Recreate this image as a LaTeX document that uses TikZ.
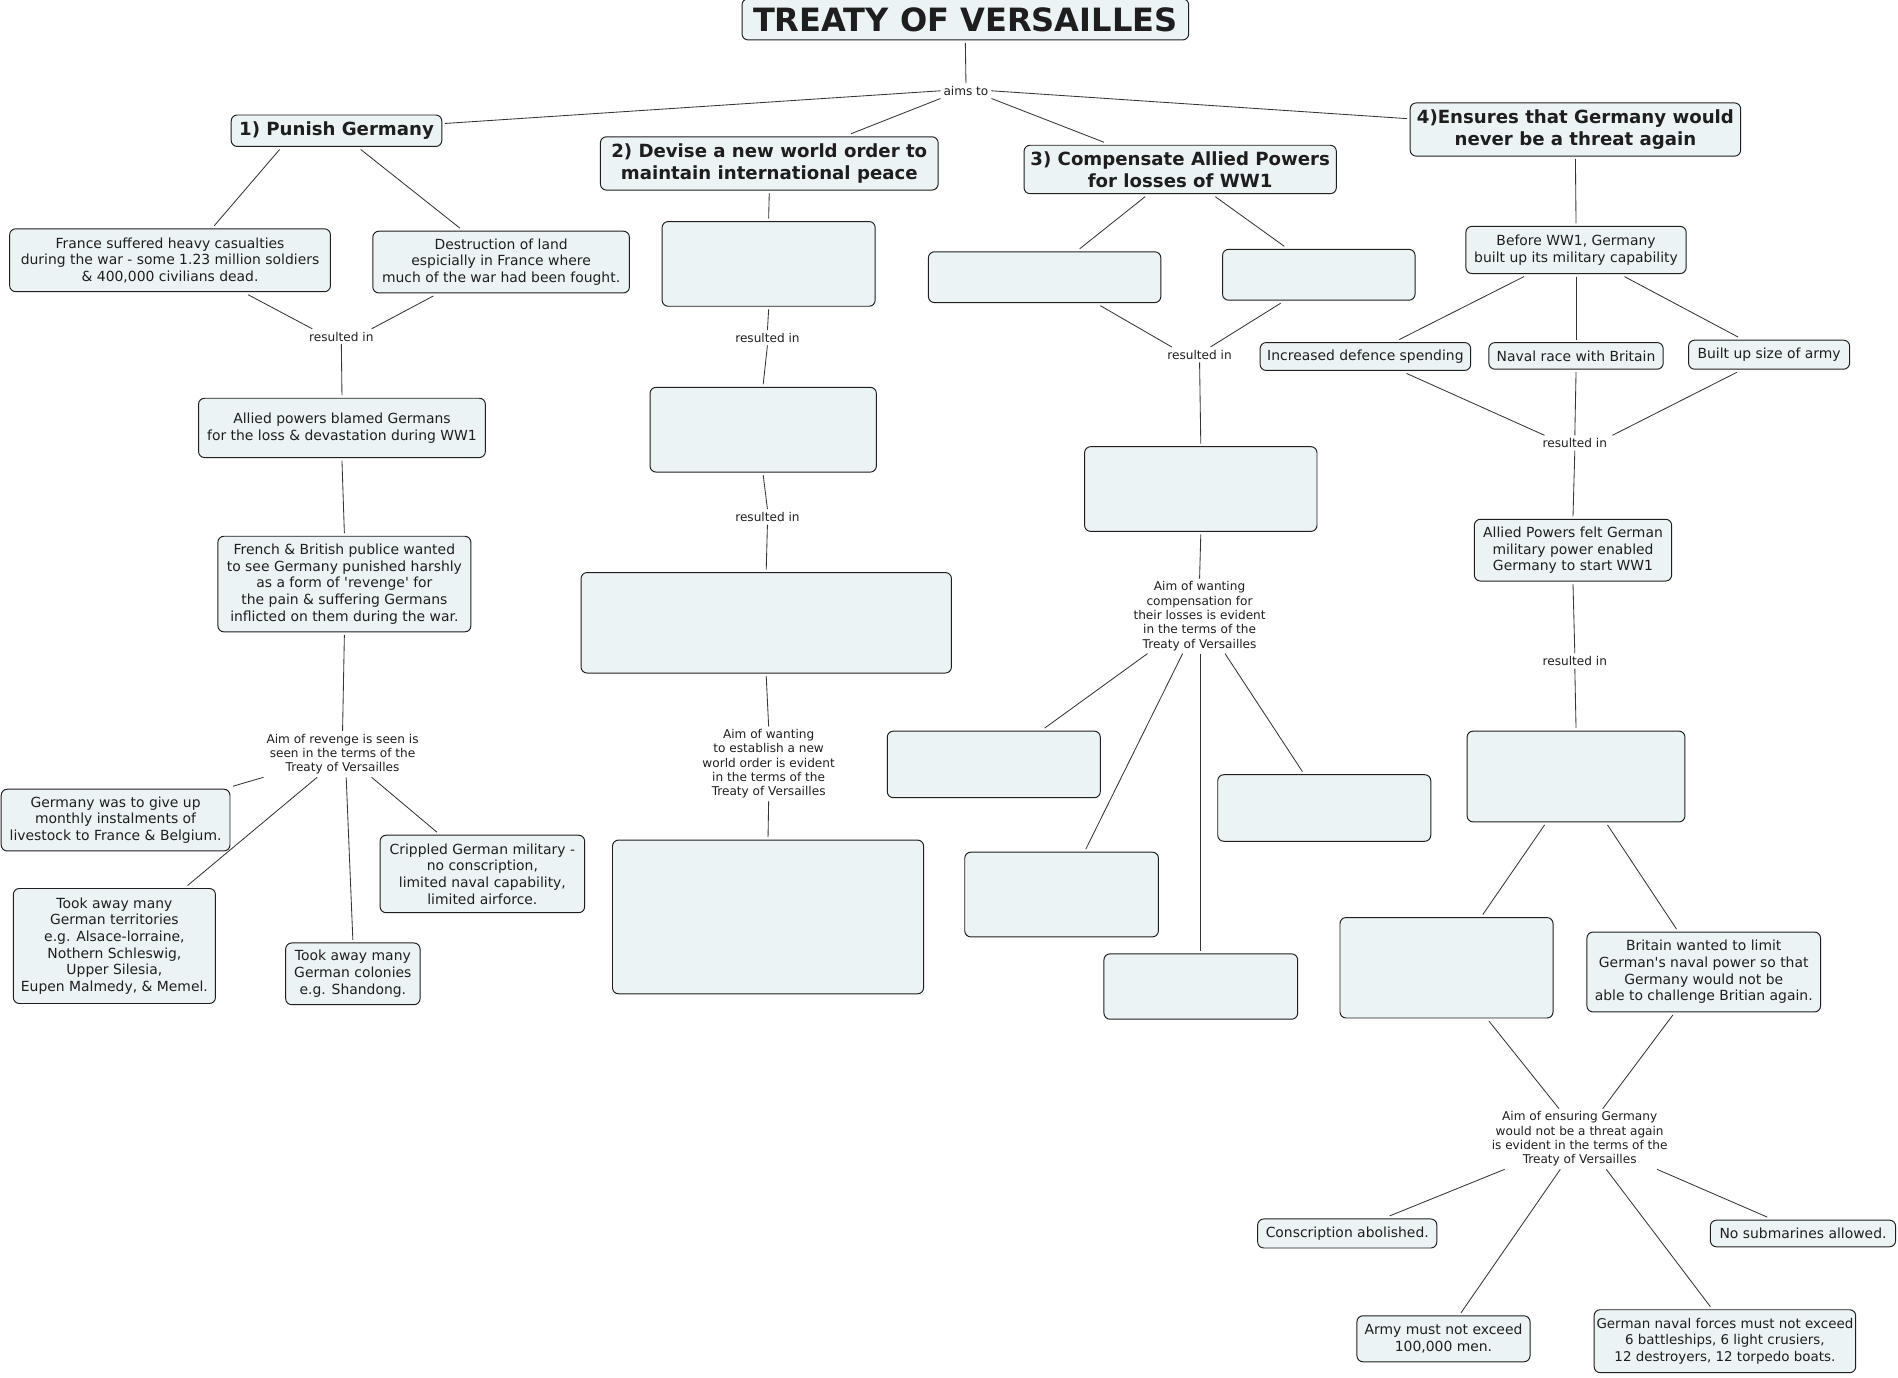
\documentclass[tikz,border=0pt]{standalone}
\usepackage{fontspec}
\setmainfont{DejaVu Sans}
\definecolor{boxfill}{RGB}{236,243,245}
\definecolor{ink}{RGB}{30,30,30}
\begin{document}
\begin{tikzpicture}[x=1pt,y=-1pt,
 sz/.style 2 args={minimum width=#1pt,minimum height=#2pt},
 box/.style={draw=ink, fill=boxfill, rounded corners=5pt, line width=0.8pt, align=center, inner sep=2pt, outer sep=2.5pt, text=ink, font=\fontsize{11.5}{13.8}\selectfont},
 head/.style={box, font=\bfseries\fontsize{15}{18}\selectfont},
 lab/.style={align=center, inner sep=1pt, outer sep=1.5pt, text=ink, font=\fontsize{10}{11.8}\selectfont},
 conn/.style={draw=ink!90, line width=0.7pt},
]
\useasboundingbox (0,0) rectangle (1568,1138);

% title and aims
\node[box, sz={369}{34}, font=\bfseries\fontsize{26.5}{30}\selectfont] (title) at (797.5,16) {TREATY OF VERSAILLES};
\node[lab] (aims) at (798,75) {aims to};

% headings
\node[head, sz={174}{26}] (pg) at (278,108) {1) Punish Germany};
\node[head, sz={279}{44}] (dv) at (635.5,135) {2) Devise a new world order to\\maintain international peace};
\node[head, sz={258}{40}] (cp) at (975,140) {3) Compensate Allied Powers\\for losses of WW1};
\node[head, sz={273}{44}] (en) at (1301.5,107) {4)Ensures that Germany would\\never be a threat again};

% column 1
\node[box, sz={265}{52}] (fr) at (140.5,215) {France suffered heavy casualties\\during the war - some 1.23 million soldiers\\\& 400,000 civilians dead.};
\node[box, sz={212}{51}] (ds) at (414,216.5) {Destruction of land\\espicially in France where\\much of the war had been fought.};
\node[lab] (r1) at (282,278) {resulted in};
\node[box, sz={237}{49}] (al) at (282.5,353.5) {Allied powers blamed Germans\\for the loss \& devastation during WW1};
\node[box, sz={209}{79}] (fb) at (284.5,482.5) {French \& British publice wanted\\to see Germany punished harshly\\as a form of \textquotesingle revenge\textquotesingle\ for\\the pain \& suffering Germans\\inflicted on them during the war.};
\node[lab] (rv) at (283,623) {Aim of revenge is seen is\\seen in the terms of the\\Treaty of Versailles};
\node[box, sz={189}{51}] (gw) at (95.5,677.5) {Germany was to give up\\monthly instalments of\\livestock to France \& Belgium.};
\node[box, sz={167}{95}] (tt) at (94.5,781.5) {Took away many\\German territories\\e.g. Alsace-lorraine,\\Nothern Schleswig,\\Upper Silesia,\\Eupen Malmedy, \& Memel.};
\node[box, sz={111}{51}] (tc) at (291.5,804.5) {Took away many\\German colonies\\e.g. Shandong.};
\node[box, sz={169}{64}] (cr) at (398.5,722) {Crippled German military -\\no conscription,\\limited naval capability,\\limited airforce.};

% column 2
\node[box, sz={176}{70}] (e2a) at (635,218) {};
\node[lab] (r2) at (634,279) {resulted in};
\node[box, sz={187}{70}] (e2b) at (630.5,355) {};
\node[lab] (r3) at (634,427) {resulted in};
\node[box, sz={306}{83}] (e2c) at (633,514.5) {};
\node[lab] (wo) at (635,631) {Aim of wanting\\to establish a new\\world order is evident\\in the terms of the\\Treaty of Versailles};
\node[box, sz={257}{127}] (e2d) at (634.5,757.5) {};

% column 3
\node[box, sz={192}{42}] (e3a) at (863,229) {};
\node[box, sz={159}{42}] (e3b) at (1089.5,227) {};
\node[lab] (r4) at (991,293) {resulted in};
\node[box, sz={192}{70}] (e3c) at (992,404) {};
\node[lab] (cm) at (991,509) {Aim of wanting\\compensation for\\their losses is evident\\in the terms of the\\Treaty of Versailles};
\node[box, sz={176}{55}] (e3d) at (821,631.5) {};
\node[box, sz={160}{70}] (e3e) at (877,739) {};
\node[box, sz={160}{54}] (e3f) at (992,815) {};
\node[box, sz={176}{55}] (e3g) at (1094,667.5) {};

% column 4
\node[box, sz={182}{39}] (bf) at (1302,206.5) {Before WW1, Germany\\built up its military capability};
\node[box, sz={174}{23}] (id) at (1128,294.5) {Increased defence spending};
\node[box, sz={144}{22}] (nr) at (1302,294) {Naval race with Britain};
\node[box, sz={133}{24}] (ba) at (1461.5,293) {Built up size of army};
\node[lab] (r5) at (1301,366) {resulted in};
\node[box, sz={163}{51}] (ap) at (1299.5,454.5) {Allied Powers felt German\\military power enabled\\Germany to start WW1};
\node[lab] (r6) at (1301,546) {resulted in};
\node[box, sz={180}{75}] (e4a) at (1302,641.5) {};
\node[box, sz={176}{83}] (e4b) at (1195,799.5) {};
\node[box, sz={193}{66}] (bw) at (1407.5,803) {Britain wanted to limit\\German\textquotesingle s naval power so that\\Germany would not be\\able to challenge Britian again.};
\node[lab] (en2) at (1305,941) {Aim of ensuring Germany\\would not be a threat again\\is evident in the terms of the\\Treaty of Versailles};
\node[box, sz={148}{24}] (ca) at (1113,1019) {Conscription abolished.};
\node[box, sz={143}{38}] (am) at (1192.5,1106) {Army must not exceed\\100,000 men.};
\node[box, sz={216}{52}, font=\fontsize{11.1}{13.6}\selectfont] (gn) at (1425,1108) {German naval forces must not exceed\\6 battleships, 6 light crusiers,\\12 destroyers, 12 torpedo boats.};
\node[box, sz={153}{22}] (ns) at (1489.5,1019) {No submarines allowed.};

% connectors: top
\draw[conn] (title.south) -- (aims.north);
\draw[conn] (aims.west) -- ([yshift=6pt]pg.east);
\draw[conn] (aims.south west) -- ([xshift=67.5pt]dv.north);
\draw[conn] (aims.south east) -- ([xshift=-63pt]cp.north);
\draw[conn] (aims.east) -- ([yshift=9pt]en.west);

% column 1
\draw[conn] ([xshift=-47pt]pg.south) -- ([xshift=36.5pt]fr.north);
\draw[conn] ([xshift=20pt]pg.south) -- ([xshift=-34pt]ds.north);
\draw[conn] ([xshift=64.5pt]fr.south) -- ([xshift=-24pt]r1.north);
\draw[conn] ([xshift=-56pt]ds.south) -- ([xshift=25pt]r1.north);
\draw[conn] (r1.south) -- (al.north);
\draw[conn] (al.south) -- (fb.north);
\draw[conn] (fb.south) -- (rv.north);
\draw[conn] (rv.south west) -- (gw.north east);
\draw[conn] ([xshift=-21pt]rv.south) -- ([xshift=60.5pt]tt.north);
\draw[conn] ([xshift=3pt]rv.south) -- (tc.north);
\draw[conn] ([xshift=24pt]rv.south) -- ([xshift=-37.5pt]cr.north);

% column 2
\draw[conn] (dv.south) -- (e2a.north);
\draw[conn] (e2a.south) -- (r2.north);
\draw[conn] (r2.south) -- (e2b.north);
\draw[conn] (e2b.south) -- (r3.north);
\draw[conn] (r3.south) -- (e2c.north);
\draw[conn] (e2c.south) -- (wo.north);
\draw[conn] (wo.south) -- (e2d.north);

% column 3
\draw[conn] ([xshift=-29pt]cp.south) -- ([xshift=29pt]e3a.north);
\draw[conn] ([xshift=29pt]cp.south) -- ([xshift=-28.5pt]e3b.north);
\draw[conn] ([xshift=46pt]e3a.south) -- ([xshift=-23pt]r4.north);
\draw[conn] ([xshift=-31.5pt]e3b.south) -- ([xshift=9pt]r4.north);
\draw[conn] (r4.south) -- (e3c.north);
\draw[conn] (e3c.south) -- (cm.north);
\draw[conn] ([xshift=-43pt]cm.south) -- ([xshift=42pt]e3d.north);
\draw[conn] ([xshift=-14pt]cm.south) -- ([xshift=20pt]e3e.north);
\draw[conn] ([xshift=1pt]cm.south) -- (e3f.north);
\draw[conn] ([xshift=21pt]cm.south) -- ([xshift=-18pt]e3g.north);

% column 4
\draw[conn] (en.south) -- (bf.north);
\draw[conn] ([xshift=-43pt]bf.south) -- ([xshift=28pt]id.north);
\draw[conn] (bf.south) -- (nr.north);
\draw[conn] ([xshift=40pt]bf.south) -- ([xshift=-25.5pt]ba.north);
\draw[conn] ([xshift=34pt]id.south) -- ([xshift=-25pt]r5.north);
\draw[conn] (nr.south) -- (r5.north);
\draw[conn] ([xshift=-26.5pt]ba.south) -- ([xshift=31pt]r5.north);
\draw[conn] (r5.south) -- (ap.north);
\draw[conn] (ap.south) -- (r6.north);
\draw[conn] (r6.south) -- (e4a.north);
\draw[conn] ([xshift=-26pt]e4a.south) -- ([xshift=30pt]e4b.north);
\draw[conn] ([xshift=26pt]e4a.south) -- ([xshift=-22.5pt]bw.north);
\draw[conn] ([xshift=35pt]e4b.south) -- ([xshift=-17pt]en2.north);
\draw[conn] ([xshift=-25.5pt]bw.south) -- ([xshift=19pt]en2.north);
\draw[conn] ([xshift=-62pt]en2.south) -- ([xshift=35pt]ca.north);
\draw[conn] ([xshift=-16pt]en2.south) -- ([xshift=14.5pt]am.north);
\draw[conn] ([xshift=22pt]en2.south) -- ([xshift=-12pt]gn.north);
\draw[conn] ([xshift=64pt]en2.south) -- ([xshift=-29.5pt]ns.north);
\end{tikzpicture}
\end{document}
